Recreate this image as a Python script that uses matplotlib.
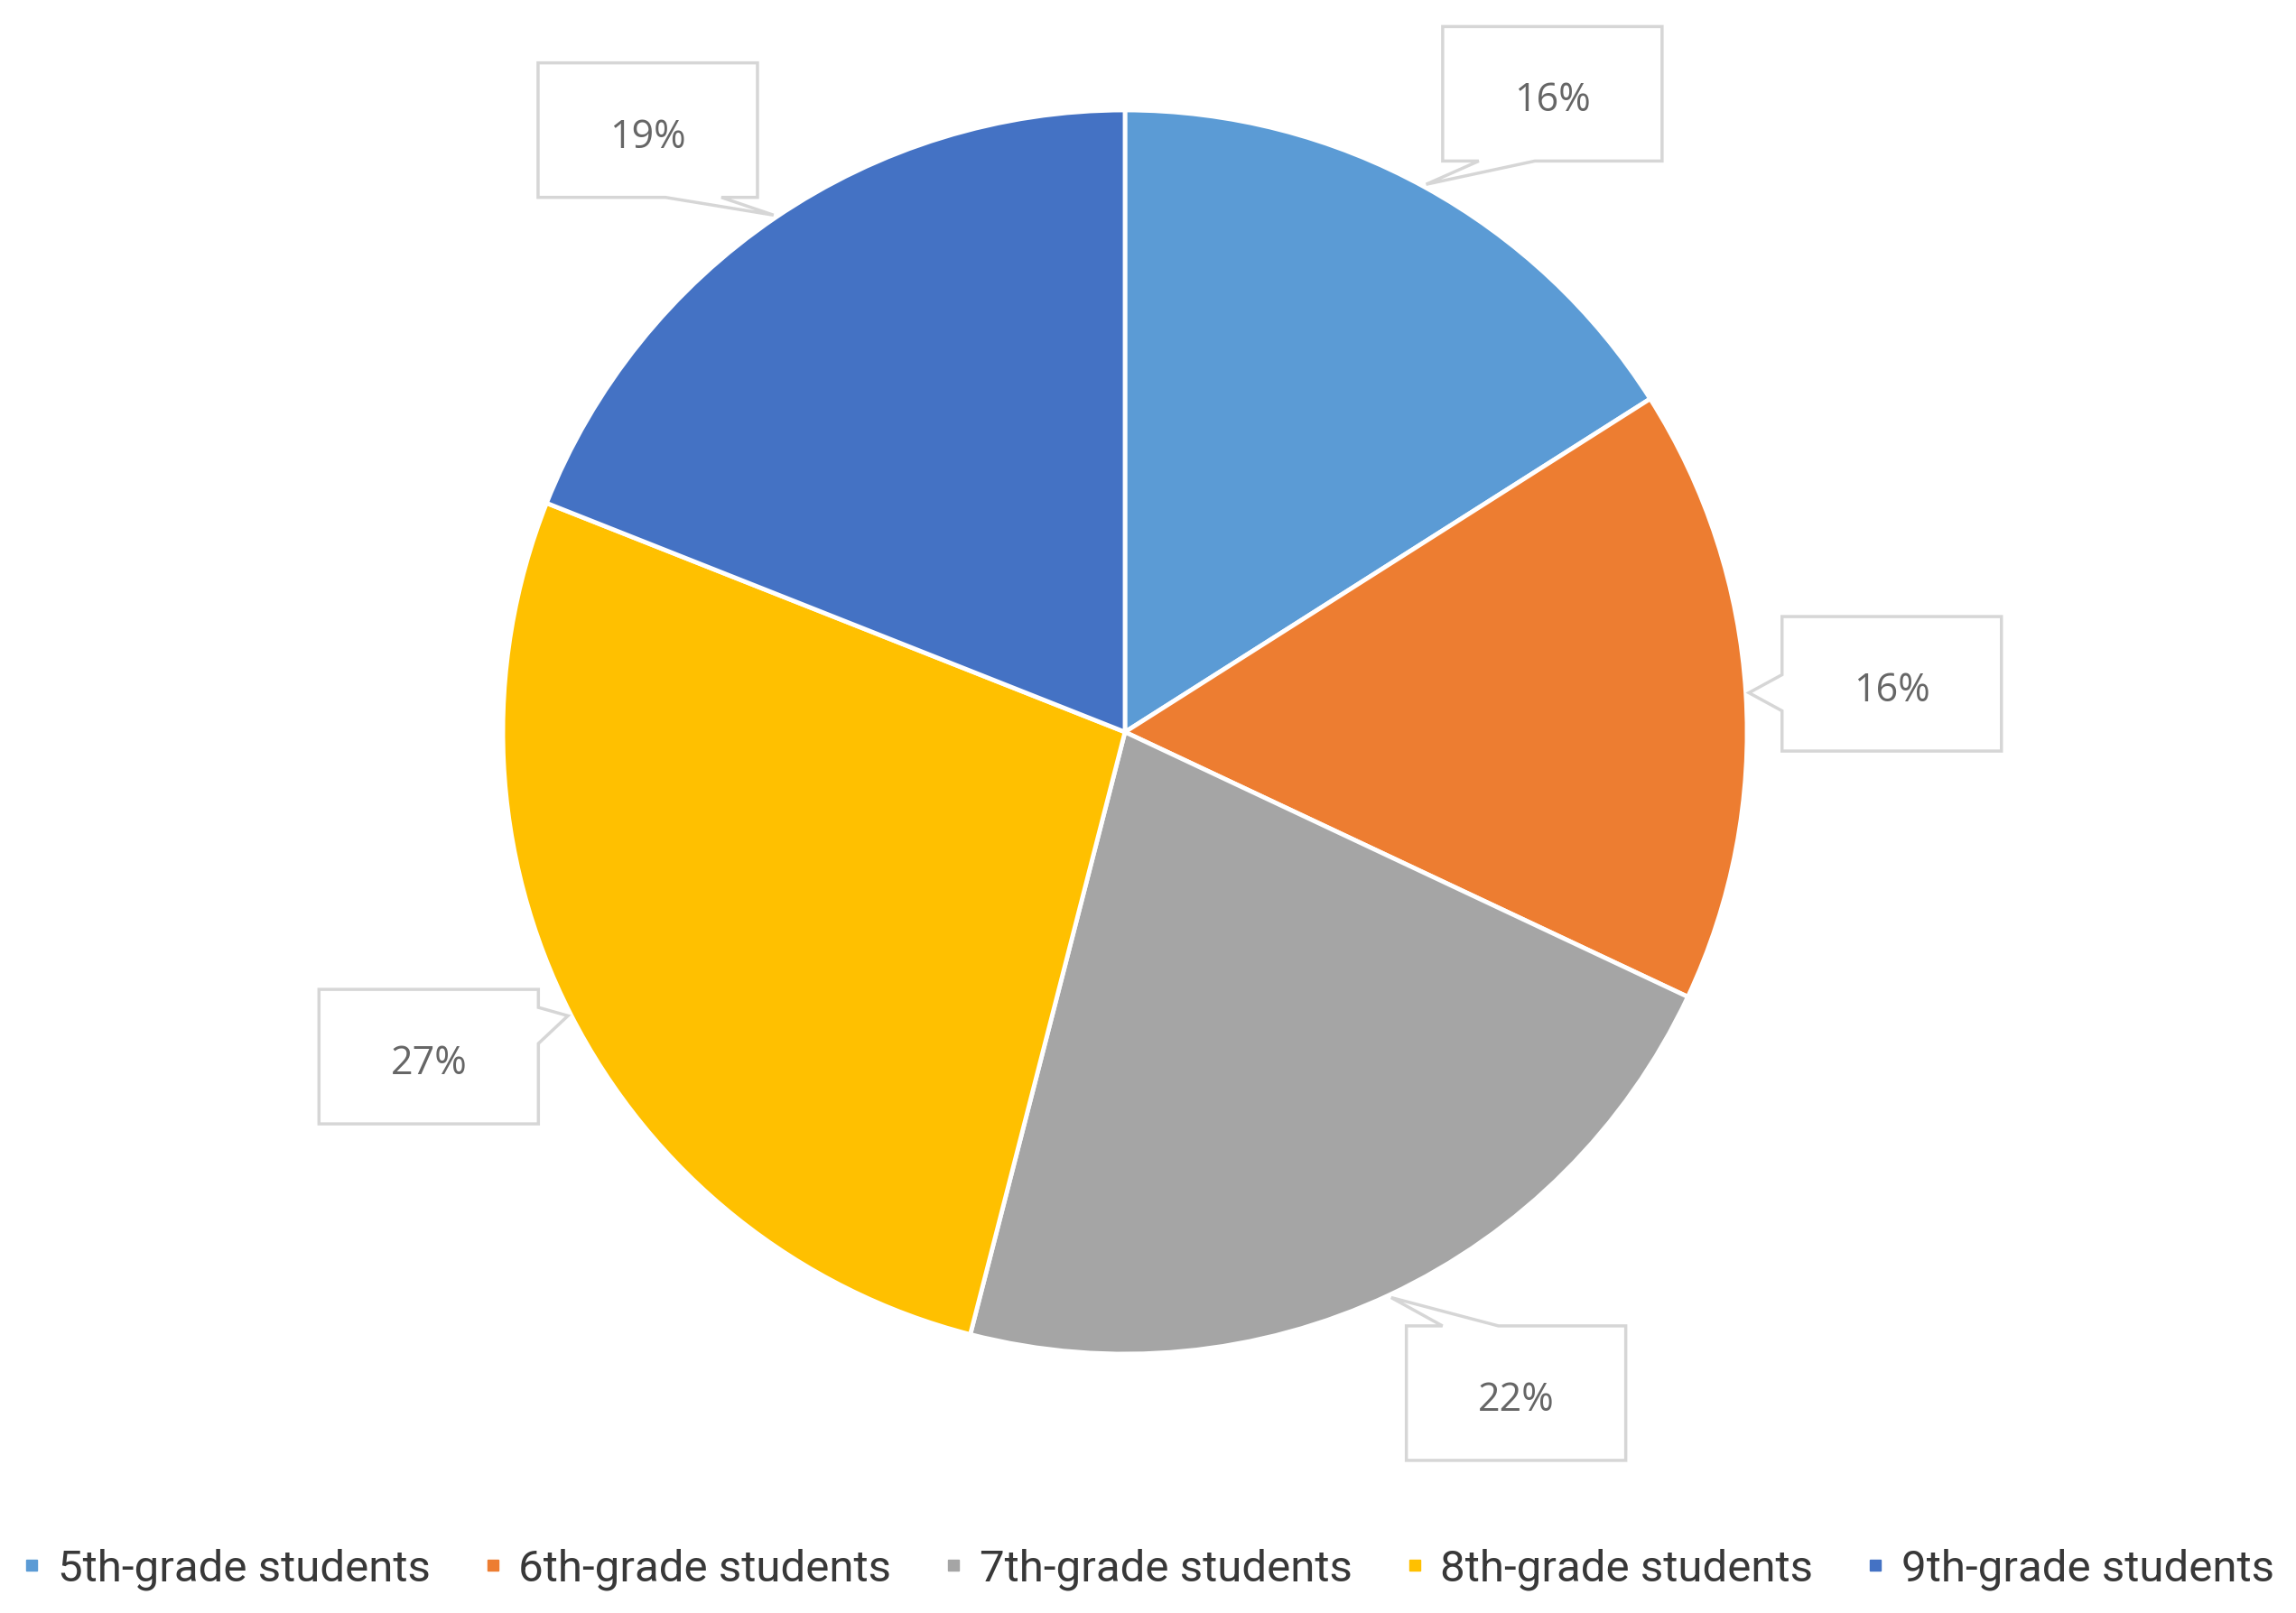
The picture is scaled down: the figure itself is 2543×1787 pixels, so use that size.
import numpy as np
import matplotlib
matplotlib.use("Agg")
import matplotlib.pyplot as plt
from matplotlib.patches import Polygon
from matplotlib.lines import Line2D

# ---- data ----
categories = ["5th-grade students", "6th-grade students", "7th-grade students",
              "8th-grade students", "9th-grade students"]
values = [16, 16, 22, 27, 19]
labels = ["16%", "16%", "22%", "27%", "19%"]
colors = ["#5B9BD5", "#ED7D31", "#A5A5A5", "#FFC000", "#4472C4"]

# label placement tweaks (degrees relative to slice mid-angle)
label_nudge = [-5.0, 0.0, 5.4, -2.0, 4.2]
label_dist = 1.235

W, H = 2543, 1787
DPI = 100
R_PX = 689.0
CX, CY = 1246.0, 811.0

fig = plt.figure(figsize=(W / DPI, H / DPI), dpi=DPI)
ax = fig.add_axes([0, 0, 1, 1])

wedges, _ = ax.pie(values, colors=colors, startangle=90, counterclock=False,
                   radius=1.0, center=(0, 0),
                   wedgeprops=dict(edgecolor="white", linewidth=3.5))

ax.set_xlim(-CX / R_PX, (W - CX) / R_PX)
ax.set_ylim(-(H - CY) / R_PX, CY / R_PX)
ax.set_aspect("equal")
ax.axis("off")

# callout boxes
bw_box, bh_box = 243 / R_PX, 149 / R_PX
ih, bwh = 40 / R_PX, 62 / R_PX   # horizontal edge inset / base width
iv, bwv = 20 / R_PX, 40 / R_PX   # vertical edge inset / base width

for w, lab, nud in zip(wedges, labels, label_nudge):
    mid = np.deg2rad((w.theta1 + w.theta2) / 2.0)
    la = mid + np.deg2rad(nud)
    cx, cy = label_dist * np.cos(la), label_dist * np.sin(la)
    tx, ty = 1.005 * np.cos(mid), 1.005 * np.sin(mid)
    L, Rr = cx - bw_box / 2, cx + bw_box / 2
    B, T = cy - bh_box / 2, cy + bh_box / 2
    dx, dy = tx - cx, ty - cy
    BL, BR, TR, TL = (L, B), (Rr, B), (Rr, T), (L, T)
    if abs(dx) / (bw_box / 2) > abs(dy) / (bh_box / 2):
        c = np.clip(ty, B + iv + bwv / 2, T - iv - bwv / 2)
        if dx > 0:
            pts = [BL, BR, (Rr, c - bwv / 2), (tx, ty), (Rr, c + bwv / 2), TR, TL]
        else:
            pts = [BL, BR, TR, TL, (L, c + bwv / 2), (tx, ty), (L, c - bwv / 2)]
    else:
        c = np.clip(tx, L + ih + bwh / 2, Rr - ih - bwh / 2)
        if dy < 0:
            pts = [BL, (c - bwh / 2, B), (tx, ty), (c + bwh / 2, B), BR, TR, TL]
        else:
            pts = [BL, BR, TR, (c + bwh / 2, T), (tx, ty), (c - bwh / 2, T), TL]
    poly = Polygon(pts, closed=True, facecolor="white", edgecolor="#D6D6D6",
                   linewidth=2.5, joinstyle="miter", zorder=5)
    ax.add_patch(poly)
    ax.text(cx, cy - 0.012, lab, ha="center", va="center", fontsize=31,
            family="Open Sans", fontweight="medium", color="#666666", zorder=6)

handles = [Line2D([], [], marker="s", linestyle="none", markersize=9,
                  markerfacecolor=c, markeredgecolor=c) for c in colors]
fig.legend(handles, categories, loc="center", bbox_to_anchor=(0.5, 0.027),
           ncol=5, frameon=False, prop=dict(family="Roboto", size=35.5),
           labelcolor="#383838", handlelength=0.45, handletextpad=0.35,
           columnspacing=1.18, borderaxespad=0)

fig.savefig("out.png", dpi=DPI, facecolor="white")
